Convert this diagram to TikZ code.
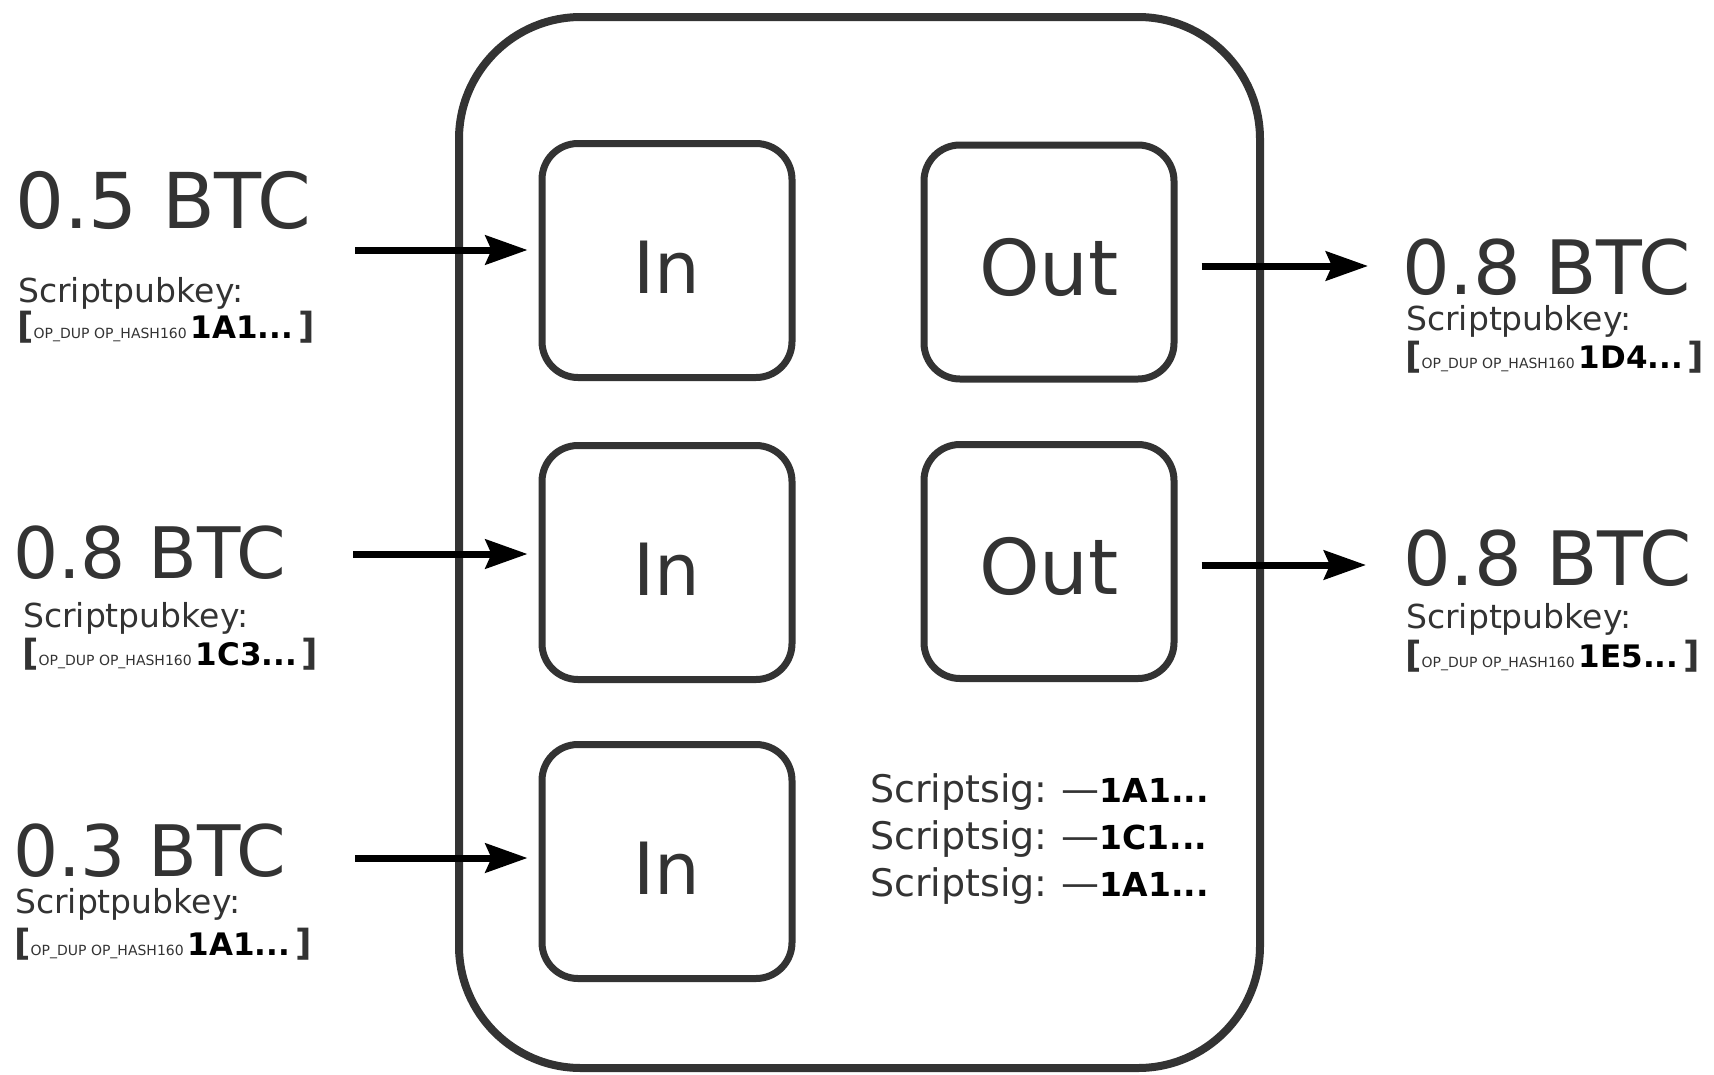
\documentclass[tikz,border=0pt]{standalone}
\usepackage{fontspec}
\setmainfont{DejaVu Sans}
\usetikzlibrary{arrows.meta}
\definecolor{ink}{HTML}{333333}
\newcommand{\fsz}[1]{\fontsize{#1}{#1}\selectfont}
\newcommand{\pkline}[1]{{\fsz{36}\bfseries[}{\fsz{14}OP\_DUP OP\_HASH160}\hspace{4pt}{\fsz{31}\bfseries\color{black}#1...}\hspace{5pt}{\fsz{36}\bfseries]}}
\newcommand{\sigline}[1]{{\fsz{38}Scriptsig:}\hspace{14pt}{\fsz{38}—}{\fsz{33}\bfseries\color{black}#1...}}
\begin{document}
\begin{tikzpicture}[x=1pt,y=-1pt,
  frame/.style={draw=ink, line width=8pt, rounded corners=122pt, minimum width=801pt, minimum height=1051pt, inner sep=0pt},
  slot/.style={draw=ink, line width=7pt, rounded corners=36pt, minimum width=250pt, minimum height=234pt, inner sep=0pt, text=ink, font=\fsz{72}, text height=66pt, text depth=0pt},
  amount/.style={anchor=base west, inner sep=0pt, text=ink, font=\fsz{75}},
  pklabel/.style={anchor=base west, inner sep=0pt, text=ink, font=\fsz{33}},
  pkscript/.style={anchor=base west, inner sep=0pt, text=ink},
  sig/.style={anchor=base west, inner sep=0pt, text=ink},
  flow/.style={draw=black, line width=7pt, -{Stealth[length=42pt,width=29pt,inset=6pt]}}
]
\useasboundingbox (0,0) rectangle (1714,1074);
\fill[white] (0,0) rectangle (1714,1074);

% transaction frame
\node[frame] (tx) at (859.5,542.5) {};

% inputs and outputs
\node[slot] (in1) at (667,260.5) {In};
\node[slot] (in2) at (667,562.5) {In};
\node[slot] (in3) at (667,861.5) {In};
\node[slot, font=\fsz{77}] (out1) at (1049,262) {Out};
\node[slot, font=\fsz{77}] (out2) at (1049,561.5) {Out};

% left texts
\node[amount, font=\fsz{77}] (btcA) at (15,228) {0.5 BTC};
\node[pklabel] (spkA) at (18,302) {Scriptpubkey:};
\node[pkscript] (brA) at (17,338) {\pkline{1A1}};

\node[amount, font=\fsz{71}] (btcB) at (13,578) {0.8 BTC};
\node[pklabel] (spkB) at (23,627) {Scriptpubkey:};
\node[pkscript] (brB) at (22,665) {\pkline{1C3}};

\node[amount, font=\fsz{71}] (btcC) at (13,876) {0.3 BTC};
\node[pklabel] (spkC) at (15,913) {Scriptpubkey:};
\node[pkscript] (brC) at (14,955) {\pkline{1A1}};

% right texts
\node[amount] (btcD) at (1402,294) {0.8 BTC};
\node[pklabel] (spkD) at (1406,330) {Scriptpubkey:};
\node[pkscript] (brD) at (1405,368) {\pkline{1D4}};

\node[amount] (btcE) at (1403,585) {0.8 BTC};
\node[pklabel] (spkE) at (1406,628) {Scriptpubkey:};
\node[pkscript] (brE) at (1405,667) {\pkline{1E5}};

% scriptsig lines
\node[sig] (sig1) at (870,802) {\sigline{1A1}};
\node[sig] (sig2) at (870,849) {\sigline{1C1}};
\node[sig] (sig3) at (870,896) {\sigline{1A1}};

% arrows
\coordinate (a1) at (355,250);
\coordinate (a2) at (353,554);
\coordinate (a3) at (355,858);
\coordinate (b1) at (1368,266);
\coordinate (b2) at (1366,565);
\draw[flow, shorten >=11pt] (a1) -- (a1 -| in1.west);
\draw[flow, shorten >=11pt] (a2) -- (a2 -| in2.west);
\draw[flow, shorten >=11pt] (a3) -- (a3 -| in3.west);
\draw[flow, shorten <=24pt] (b1 -| out1.east) -- (b1);
\draw[flow, shorten <=24pt] (b2 -| out2.east) -- (b2);
\end{tikzpicture}
\end{document}
